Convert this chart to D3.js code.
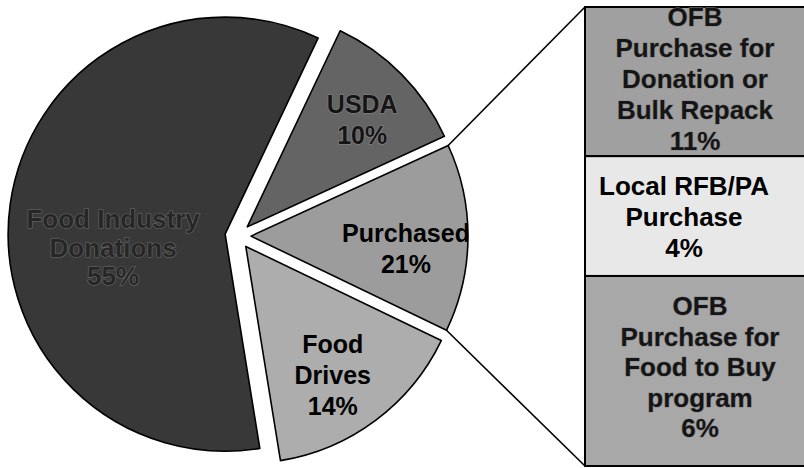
<!DOCTYPE html>
<html>
<head>
<meta charset="utf-8">
<script src="https://cdn.jsdelivr.net/npm/d3@7/dist/d3.min.js"></script>
<style>
  html, body { margin: 0; padding: 0; background: #fff; }
  svg { display: block; }
  text { font-family: "Liberation Sans", Arial, sans-serif; font-weight: bold; }
</style>
</head>
<body>
<svg id="chart" width="804" height="468"></svg>
<script>
// pie slices (sizes as they are drawn; the printed percentages are the labels)
var sliceNames  = ["Food Industry Donations", "USDA", "Purchased", "Food Drives"];
var sliceShares = [59.6, 11.1, 14.0, 15.3];
var sliceLabels = [["Food Industry", "Donations", "55%"], ["USDA", "10%"], ["Purchased", "21%"], ["Food", "Drives", "14%"]];

// bar that breaks down the "Purchased" slice
var barNames  = ["OFB Purchase for Donation or Bulk Repack", "Local RFB/PA Purchase", "OFB Purchase for Food to Buy program"];
var barShares = [32.5, 26.1, 41.4];
var barLabels = [["OFB", "Purchase for", "Donation or", "Bulk Repack", "11%"], ["Local RFB/PA", "Purchase", "4%"], ["OFB", "Purchase for", "Food to Buy", "program", "6%"]];

var svg = d3.select("#chart");

var cx = 238, cy = 236, radius = 217, explode = 13;
var sliceFill = ["#383838", "#646464", "#9c9c9c", "#adadad"];
var barFill = ["#a0a0a0", "#e8e8e8", "#a8a8a8"];
var deg = Math.PI / 180;

var pie = d3.pie().sort(null).value(function(d) { return d; })
    .startAngle(170.8 * deg).endAngle(530.8 * deg);
var arcs = pie(sliceShares);
var arc = d3.arc().innerRadius(0).outerRadius(radius);

function offset(d) {
  var a = (d.startAngle + d.endAngle) / 2;
  return [cx + explode * Math.sin(a), cy - explode * Math.cos(a)];
}

var slices = svg.append("g").selectAll("g.slice").data(arcs).enter()
  .append("g")
    .attr("class", "slice")
    .attr("transform", function(d) { var o = offset(d); return "translate(" + o[0] + "," + o[1] + ")"; });

slices.append("clipPath")
    .attr("id", function(d, i) { return "clip" + i; })
  .append("path")
    .attr("d", arc);

slices.append("path")
    .attr("d", arc)
    .attr("fill", function(d, i) { return sliceFill[i]; })
    .attr("stroke", "#000")
    .attr("stroke-width", 1.6)
    .attr("stroke-linejoin", "round");

// label positions inside each slice (relative to the slice centre): x, first baseline, line step, size
var labelPos = [[-112, -6, 28.5, 26], [115, -114, 31, 25], [155, 6, 31, 25], [87, 107, 31, 25]];
var labelStyle = [
  { fill: "#262626", stroke: "#6c6c6c" },
  { fill: "#151515", stroke: "#8a8a8a" },
  { fill: "#000", stroke: "none" },
  { fill: "#000", stroke: "none" }
];

slices.each(function(d, i) {
  var g = d3.select(this).append("g").attr("clip-path", "url(#clip" + i + ")");
  var lines = sliceLabels[i], p = labelPos[i];
  g.selectAll("text").data(lines).enter()
    .append("text")
      .attr("x", p[0])
      .attr("y", function(t, k) { return p[1] + k * p[2]; })
      .attr("text-anchor", "middle")
      .attr("font-size", p[3])
      .attr("fill", labelStyle[i].fill)
      .attr("stroke", labelStyle[i].stroke)
      .attr("stroke-width", 1.2)
      .attr("paint-order", "stroke")
      .text(function(t) { return t; });
});

// bar of the Purchased slice
var barX = 585, barW = 240, barTop = 7, barBottom = 466;
var y = d3.scaleLinear().domain([0, d3.sum(barShares)]).range([barTop, barBottom]);
var stacked = [], acc = 0;
barShares.forEach(function(v) { stacked.push([acc, acc + v]); acc += v; });

var bar = svg.append("g");
bar.selectAll("rect").data(stacked).enter()
  .append("rect")
    .attr("x", barX)
    .attr("y", function(d) { return y(d[0]); })
    .attr("width", barW)
    .attr("height", function(d) { return y(d[1]) - y(d[0]); })
    .attr("fill", function(d, i) { return barFill[i]; })
    .attr("stroke", "#000")
    .attr("stroke-width", 2);

var barTextX = [695, 684, 700];
var barBase = [26, 195, 315];
var barStep = [31, 31, 30.5];
stacked.forEach(function(s, i) {
  var g = bar.append("g");
  g.selectAll("text").data(barLabels[i]).enter()
    .append("text")
      .attr("x", barTextX[i])
      .attr("y", function(t, k) { return barBase[i] + k * barStep[i]; })
      .attr("text-anchor", "middle")
      .attr("font-size", 26)
      .attr("fill", i == 1 ? "#000" : "#151515")
      .attr("stroke", i == 1 ? "none" : "#8a8a8a")
      .attr("stroke-width", 1.2)
      .attr("paint-order", "stroke")
      .text(function(t) { return t; });
});

// connector lines from the Purchased slice to the bar
var pd = arcs[2], po = offset(pd), rr = radius;
var p1 = [po[0] + rr * Math.sin(pd.startAngle), po[1] - rr * Math.cos(pd.startAngle)];
var p2 = [po[0] + rr * Math.sin(pd.endAngle), po[1] - rr * Math.cos(pd.endAngle)];
svg.append("line")
    .attr("x1", p1[0]).attr("y1", p1[1]).attr("x2", barX).attr("y2", y(0))
    .attr("stroke", "#000").attr("stroke-width", 1.6);
svg.append("line")
    .attr("x1", p2[0]).attr("y1", p2[1]).attr("x2", barX).attr("y2", y(d3.sum(barShares)))
    .attr("stroke", "#000").attr("stroke-width", 1.6);
</script>
</body>
</html>
